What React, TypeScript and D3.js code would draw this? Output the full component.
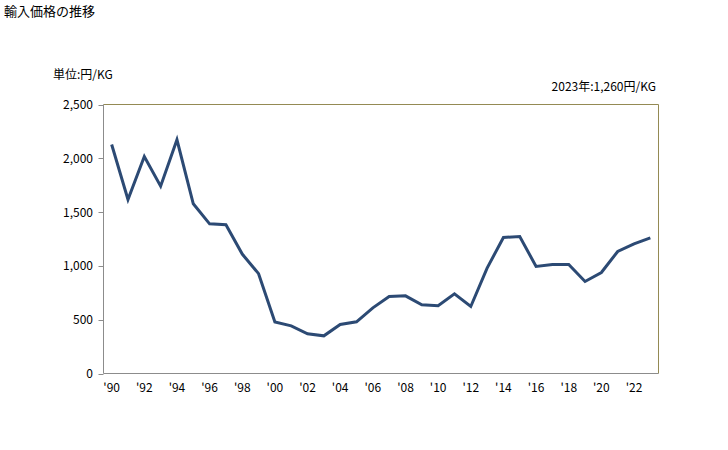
import React from "react";
import * as d3 from "d3";

const years: number[] = [
  1990, 1991, 1992, 1993, 1994, 1995, 1996, 1997, 1998, 1999,
  2000, 2001, 2002, 2003, 2004, 2005, 2006, 2007, 2008, 2009,
  2010, 2011, 2012, 2013, 2014, 2015, 2016, 2017, 2018, 2019,
  2020, 2021, 2022, 2023,
];
const prices: number[] = [
  2128, 1617, 2017, 1741, 2172, 1577, 1391, 1382, 1110, 928,
  478, 443, 369, 350, 455, 480, 610, 715, 722, 638,
  630, 741, 623, 980, 1264, 1273, 995, 1013, 1013, 855,
  939, 1134, 1205, 1260,
];
const yTicks: number[] = [0, 500, 1000, 1500, 2000, 2500];
const xLabelYears: number[] = [1990, 1992, 1994, 1996, 1998, 2000, 2002, 2004, 2006, 2008, 2010, 2012, 2014, 2016, 2018, 2020, 2022];

const title = "輸入価格の推移";
const unitLabel = "単位:円/KG";
const latestLabel = "2023年:1,260円/KG";

const FONT = "'Noto Sans CJK JP', 'Noto Sans', sans-serif";

export default function App() {
  const W = 728, H = 450;
  const left = 103.5, right = 658.5, top = 104.5, bottom = 373.5;

  const x = d3.scaleBand<number>().domain(years).range([left, right]).padding(0);
  const y = d3.scaleLinear().domain([0, 2500]).range([bottom, top]);
  const cx = (yr: number) => (x(yr) as number) + x.bandwidth() / 2;

  const line = d3.line<number>()
    .x((_, i) => cx(years[i]))
    .y((v) => y(v));

  const fmt = d3.format(",");

  return (
    <svg width={W} height={H} style={{ position: "absolute", left: 0, top: 0 }} fontFamily={FONT}>
      <rect x={0} y={0} width={W} height={H} fill="#ffffff" />
      <text x={4} y={16} fontSize={13} fill="#000">{title}</text>
      <text x={53} y={79} fontSize={12} fill="#000">{unitLabel}</text>
      <text x={656} y={91} fontSize={12} fill="#000" textAnchor="end">{latestLabel}</text>

      {/* frame top & right */}
      <line x1={left} x2={right} y1={top} y2={top} stroke="#948a54" strokeWidth={1} />
      <line x1={right} x2={right} y1={top} y2={bottom} stroke="#948a54" strokeWidth={1} />
      {/* axes left & bottom */}
      <line x1={left} x2={left} y1={top} y2={bottom} stroke="#8c8c8c" strokeWidth={1} />
      <line x1={left} x2={right} y1={bottom} y2={bottom} stroke="#8c8c8c" strokeWidth={1} />

      {yTicks.map((t) => (
        <g key={t}>
          <line x1={left - 5} x2={left} y1={Math.round(y(t)) + 0.5} y2={Math.round(y(t)) + 0.5} stroke="#8c8c8c" />
          <text x={93} y={y(t) + 4.5} fontSize={12} textAnchor="end" fill="#000">{fmt(t)}</text>
        </g>
      ))}

      {xLabelYears.map((yr) => (
        <text key={yr} x={cx(yr)} y={392} fontSize={12} textAnchor="middle" fill="#000">
          {"'" + String(yr).slice(2)}
        </text>
      ))}

      <path d={line(prices) || ""} fill="none" stroke="#2c4a74" strokeWidth={3} strokeLinejoin="miter" />
    </svg>
  );
}
